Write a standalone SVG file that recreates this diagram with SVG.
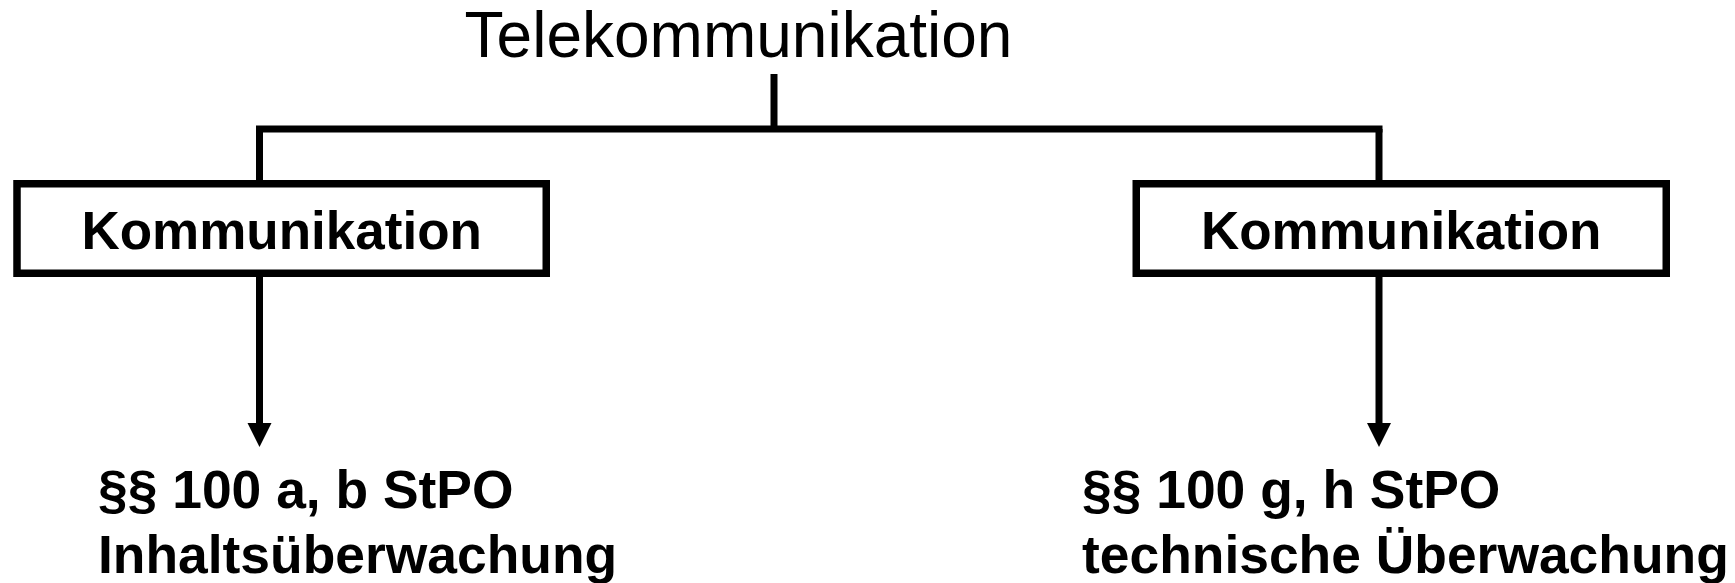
<svg xmlns="http://www.w3.org/2000/svg" width="1735" height="583" viewBox="0 0 1735 583">
  <style>
    .title { font-family: "Liberation Sans", Arial, sans-serif; font-size: 64px; fill: #000; }
    .label { font-family: "Liberation Sans", Arial, sans-serif; font-size: 53px; font-weight: bold; fill: #000; }
    .note { font-family: "Liberation Sans", Arial, sans-serif; font-size: 53.4px; font-weight: bold; fill: #000; }
    .box { fill: #fff; stroke: #000; stroke-width: 7.5; }
    .wire { fill: none; stroke: #000; stroke-width: 7; }
  </style>
  <rect width="1735" height="583" fill="#fff"/>

  <!-- root label -->
  <g id="telekommunikation">
    <text class="title" x="738.5" y="57" text-anchor="middle">Telekommunikation</text>
  </g>

  <!-- tree connectors -->
  <g id="connectors">
    <line class="wire" x1="774" y1="74" x2="774" y2="129"/>
    <line class="wire" x1="256" y1="129" x2="1382.5" y2="129" stroke-width="8"/>
    <line class="wire" x1="259.5" y1="129" x2="259.5" y2="181"/>
    <line class="wire" x1="1379" y1="129" x2="1379" y2="181"/>
    <line class="wire" x1="259.5" y1="277" x2="259.5" y2="423"/>
    <path d="M247.5,423 L271.5,423 L259.5,447 Z" fill="#000"/>
    <line class="wire" x1="1379" y1="277" x2="1379" y2="423"/>
    <path d="M1367,423 L1391,423 L1379,447 Z" fill="#000"/>
  </g>

  <!-- left branch -->
  <g id="kommunikation-left">
    <rect class="box" x="17" y="183.75" width="529.25" height="89.5"/>
    <text class="label" x="281.7" y="249" text-anchor="middle">Kommunikation</text>
  </g>
  <g id="inhalt-left">
    <text class="note" x="98" y="508">§§ 100 a, b StPO</text>
    <text class="note" x="98" y="573">Inhaltsüberwachung</text>
  </g>

  <!-- right branch -->
  <g id="kommunikation-right">
    <rect class="box" x="1136.25" y="183.75" width="530" height="89.5"/>
    <text class="label" x="1401.2" y="249" text-anchor="middle">Kommunikation</text>
  </g>
  <g id="technik-right">
    <text class="note" x="1082" y="508">§§ 100 g, h StPO</text>
    <text class="note" x="1082" y="573">technische Überwachung</text>
  </g>
</svg>
